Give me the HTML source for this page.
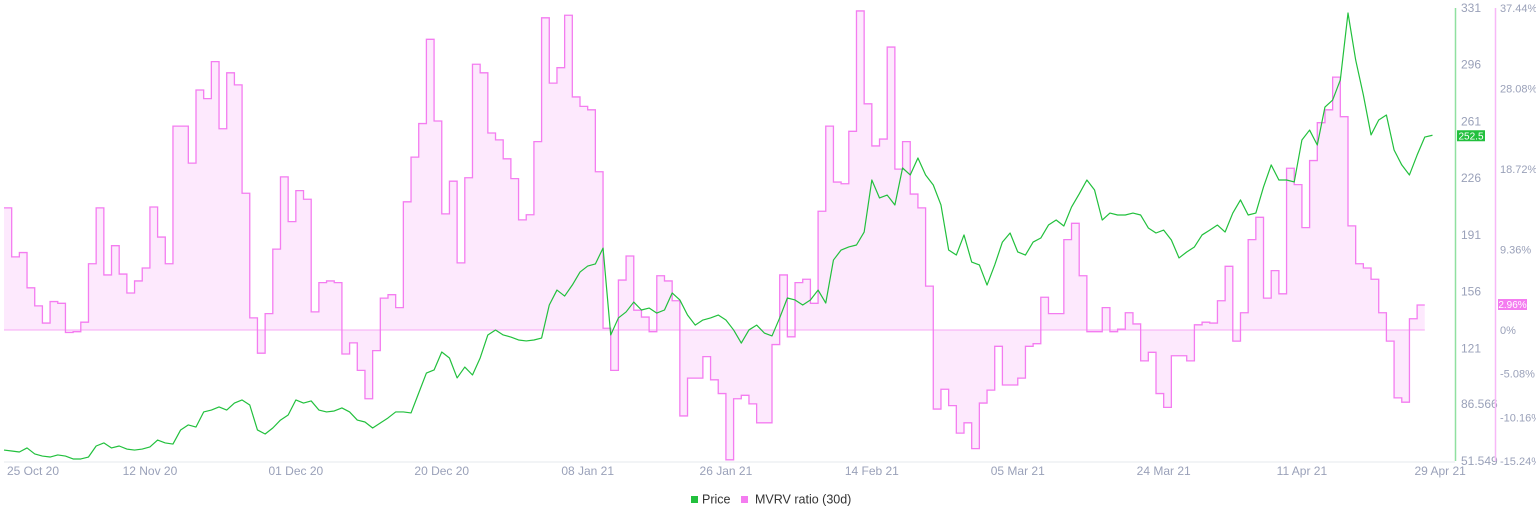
<!DOCTYPE html>
<html><head><meta charset="utf-8"><style>
html,body{margin:0;padding:0;background:#fff;}
svg{display:block;font-family:"Liberation Sans",sans-serif;}
</style></head><body>
<svg id="chart" width="1536" height="520" viewBox="0 0 1536 520" xmlns="http://www.w3.org/2000/svg">
<g id="plot"></g>
<g id="axes"></g>
<g id="legend">
  <g>
    <rect x="691" y="496" width="7" height="7" fill="#22c03d"/>
    <text x="702" y="503.5" font-size="12.5" fill="#333">Price</text>
  </g>
  <g>
    <rect x="741" y="496" width="7" height="7" fill="#f47cf0"/>
    <text x="755" y="503.5" font-size="12.5" fill="#333">MVRV ratio (30d)</text>
  </g>
</g>
</svg>
<script>
const startDate = "2020-10-24";
const mvrvValues = [14.2,8.5,9.0,4.9,2.8,0.8,3.3,3.1,-0.3,-0.2,0.9,7.7,14.2,6.4,9.8,6.5,4.3,5.7,7.2,14.3,10.8,7.7,23.7,23.7,19.4,27.9,26.9,31.2,23.4,29.9,28.5,15.9,1.4,-2.7,1.9,9.4,17.8,12.6,16.2,15.2,2.1,5.5,5.7,5.5,-2.8,-1.5,-4.7,-8.0,-2.4,3.7,4.1,2.6,14.9,20.1,24.0,33.8,24.3,13.5,17.3,7.8,17.7,30.9,29.9,22.9,22.1,19.9,17.6,12.8,13.4,21.9,36.3,28.7,30.5,36.6,27.1,26.0,25.6,18.4,0.2,-4.7,5.8,8.6,2.3,1.5,-0.2,6.3,5.7,3.4,-10.0,-5.6,-5.6,-3.1,-5.8,-7.4,-15.1,-8.0,-7.6,-8.6,-10.8,-10.8,-1.7,6.4,-0.8,5.5,5.9,3.1,13.8,23.7,17.2,17.0,23.1,37.1,26.3,21.4,22.2,32.9,18.7,21.9,15.8,14.2,5.1,-9.2,-6.9,-8.8,-12.0,-10.8,-13.8,-8.5,-7.0,-1.9,-6.4,-6.4,-5.6,-1.9,-1.6,3.8,1.9,1.9,10.5,12.4,6.3,-0.2,-0.2,2.6,-0.2,0.1,2.0,0.7,-3.6,-2.6,-7.4,-9.0,-3.0,-3.0,-3.6,0.6,0.9,0.8,3.4,7.4,-1.3,2.0,10.5,13.1,3.7,6.9,4.2,18.8,16.9,11.9,19.7,24.1,25.6,29.4,24.8,12.1,7.7,7.2,5.9,2.0,-1.3,-7.9,-8.4,1.3,2.9];
const priceValues = [58.3,57.7,57.1,59.6,55.9,54.6,54.0,55.3,54.6,52.8,52.8,54.0,60.8,62.7,59.6,60.8,58.9,58.3,58.9,60.2,64.5,62.7,62.0,70.7,73.8,72.5,81.8,83.0,84.9,83.0,87.3,89.2,86.1,70.7,68.2,71.9,76.8,79.9,89.2,87.3,88.6,83.0,81.8,82.4,84.3,81.8,76.8,75.6,71.9,75.0,78.1,81.8,81.8,81.2,93.5,105.8,107.7,118.8,115.1,102.8,109.5,104.6,115.1,129.3,132.4,129.3,128.0,126.2,125.6,126.2,127.4,147.8,157.0,153.3,160.1,168.1,171.8,173.1,182.9,129.3,139.8,143.5,149.6,144.7,145.9,142.8,144.7,155.2,150.9,141.6,135.4,138.5,139.8,141.6,138.5,132.4,124.3,132.4,135.4,130.5,128.7,139.8,152.1,150.9,147.8,150.9,157.0,149.0,175.5,181.7,183.6,184.8,192.8,224.9,213.8,215.6,209.5,232.3,228.0,238.5,228.0,221.8,209.5,181.7,178.6,191.0,174.3,172.5,160.1,172.5,186.6,192.2,180.5,178.6,186.6,189.1,197.1,200.2,196.5,208.2,216.3,224.9,218.7,200.2,204.5,203.3,203.3,204.5,203.3,195.3,192.2,194.0,187.9,176.8,180.5,183.6,191.0,194.0,197.1,192.8,204.5,212.6,203.3,204.5,220.6,234.2,224.9,224.9,223.7,249.6,255.7,246.5,269.9,274.2,286.6,327.9,298.9,277.3,252.7,261.9,265.0,243.4,234.2,228.0,240.3,251.4,252.5];
const xTickLabels = ["25 Oct 20","12 Nov 20","01 Dec 20","20 Dec 20","08 Jan 21","26 Jan 21","14 Feb 21","05 Mar 21","24 Mar 21","11 Apr 21","29 Apr 21"];
const xTickDays = [1,19,38,57,76,94,113,132,151,169,187];
const priceTicks = [331,296,261,226,191,156,121,86.566,51.549];
const mvrvTicks = [37.44,28.08,18.72,9.36,0,-5.08,-10.16,-15.24];

const NS="http://www.w3.org/2000/svg";
const X0=4, PXDAY=7.68, TOP=8, BOT=461;
const xScale = d => X0 + d*PXDAY;
const pMin=51.549, pMax=331;
const yPrice = p => BOT - (p-pMin)/(pMax-pMin)*(BOT-TOP);
const mMin=-15.24, mMax=37.44;
const yMvrv = v => BOT - (v-mMin)/(mMax-mMin)*(BOT-TOP);
function mk(tag, attrs, parent){const e=document.createElementNS(NS,tag);for(const k in attrs)e.setAttribute(k,attrs[k]);parent.appendChild(e);return e;}
const plot=document.getElementById('plot'), axes=document.getElementById('axes');

const z=yMvrv(0);
let d="M"+xScale(0)+","+yMvrv(mvrvValues[0]);
mvrvValues.forEach((v,i)=>{ if(i>0) d+=" L"+xScale(i)+","+yMvrv(v); d+=" L"+xScale(i+1)+","+yMvrv(v); });
const endX=xScale(mvrvValues.length);
const fill=mk('path',{d:d+" L"+endX+","+z+" L"+xScale(0)+","+z+" Z",fill:"#fde9fd",stroke:"none"},plot);


const zl=mk('line',{x1:xScale(0),x2:endX,y1:z,y2:z,stroke:"#f7a8f5","stroke-width":1},plot);


const ml=mk('path',{d:d,fill:"none",stroke:"#f47cf0","stroke-width":1.3},plot);



let pd="";
priceValues.forEach((p,i)=>{pd+=(i?" L":"M")+xScale(i).toFixed(2)+","+yPrice(p).toFixed(2);});
const pl=mk('path',{d:pd,fill:"none",stroke:"#22c03d","stroke-width":1.2,"stroke-linejoin":"round"},plot);



const xa=mk('line',{x1:4,x2:1455,y1:462,y2:462,stroke:"#e6e8ee","stroke-width":1},axes);


xTickLabels.forEach((t,i)=>{
  let x=xScale(xTickDays[i]); if(x<33)x=33; if(x>1441)x=1441;
  const e=mk('text',{x:x,y:475,"font-size":12,fill:"#9aa1b9","text-anchor":"middle"},axes);
  e.textContent=t;
  
  
});
const pa=mk('line',{x1:1455.5,x2:1455.5,y1:TOP,y2:BOT,stroke:"#8fe0a0","stroke-width":1.5},axes);


priceTicks.forEach(t=>{
  const e=mk('text',{x:1461,y:yPrice(t)+4,"font-size":12,fill:"#9aa1b9"},axes);
  e.textContent=String(t);
  
  
});
const ma=mk('line',{x1:1495.5,x2:1495.5,y1:TOP,y2:BOT,stroke:"#f7b8f7","stroke-width":1.5},axes);


mvrvTicks.forEach(t=>{
  const e=mk('text',{x:1500,y:yMvrv(t)+4,"font-size":11,fill:"#9aa1b9"},axes);
  e.textContent=(t===0?"0":t.toFixed(2))+"%";
  
  
});
const lastP=priceValues[priceValues.length-1];
const pt=mk('g',{},axes);


mk('rect',{x:1457,y:yPrice(lastP)-5,width:28,height:11,fill:"#22c03d"},pt);
const ptt=mk('text',{x:1471,y:yPrice(lastP)+4,"font-size":10,fill:"#fff","text-anchor":"middle"},pt);
ptt.textContent=lastP.toFixed(1);
const mt=mk('g',{},axes);


mk('rect',{x:1498,y:299,width:29,height:11,fill:"#f47cf0"},mt);
const mtt=mk('text',{x:1512.5,y:308,"font-size":10,fill:"#fff","text-anchor":"middle"},mt);
mtt.textContent="2.96%";
</script>
</body></html>
